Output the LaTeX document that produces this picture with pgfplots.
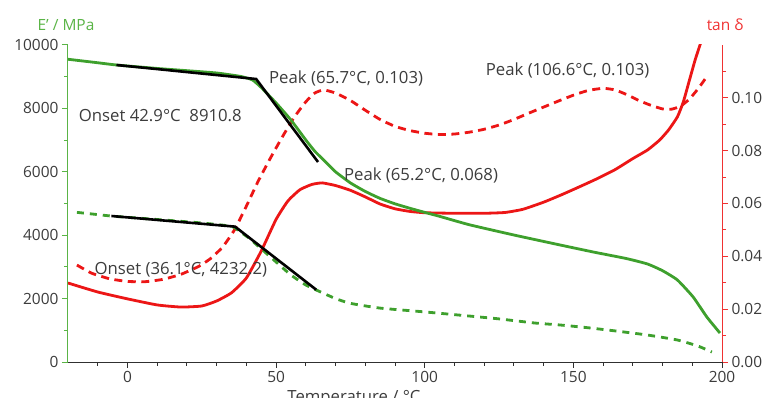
\documentclass[border=0pt]{standalone}
\usepackage{fontspec}
\setmainfont{Open Sans}
\usepackage{pgfplots}
\usepackage{pgfplotstable}
\pgfplotsset{compat=1.18}
\definecolor{cgreen}{RGB}{62,160,45}
\definecolor{cgreenax}{RGB}{90,180,70}
\definecolor{cred}{RGB}{236,22,22}
\definecolor{credax}{RGB}{240,50,50}
\definecolor{ctext}{RGB}{60,60,60}
\newcommand\fs{\fontsize{15.5}{18}\selectfont}
\newcommand\fa{\fontsize{16.8}{19}\selectfont}

\pgfplotstableread{
T E
-20 9550
-10 9440
-3.7 9369
10 9260
20 9190
30 9117
38 9010
42 8900
45 8660
50 8170
55 7634
60 7003
63 6650
66 6372
70 6000
75 5650
80 5380
85 5160
90 4990
95 4850
100 4720
105 4595
115 4330
130 4006
145.6 3690
156.7 3470
168 3260
175 3090
180 2880
185 2587
190.3 2050
194.9 1420
199.3 915
}\Eone

\pgfplotstableread{
T E
-17 4720
-10 4650
-5 4600
5 4530
15 4460
25 4385
35 4280
38 4100
41 3900
45 3570
50 3155
55 2744
60 2429
65 2208
70 2000
75 1850
85 1700
100 1580
115 1450
125 1360
137 1230
145.6 1167
155 1080
165 970
175 850
185 694
192 500
196.6 315
}\Etwo

\pgfplotstableread{
T tan
-20 0.0299
-10 0.0265
0 0.0239
10 0.0216
18 0.0208
25 0.0212
30 0.0231
35 0.0262
40 0.0318
45 0.0420
50 0.0540
54 0.0610
58 0.0652
62 0.0672
65.5 0.0678
70 0.0668
75 0.0650
80 0.0625
85 0.0598
90 0.0580
95 0.0570
100 0.0565
110 0.0563
120 0.0563
127 0.0566
133 0.0578
140 0.0605
146 0.0633
152 0.0663
158 0.0694
164 0.0728
170 0.0770
175 0.0803
179 0.0840
182 0.0878
185 0.0928
187 0.0985
189 0.1065
191 0.1145
192.6 0.1200
193.4 0.1230
}\Tone

\pgfplotstableread{
T tan
-17 0.0367
-12 0.0336
-6 0.0315
0 0.0305
6 0.0304
12 0.0313
18 0.0332
24 0.0362
28 0.0392
32 0.0435
36 0.0500
40 0.0590
44 0.0685
48 0.0770
52 0.0850
56 0.0925
60 0.0985
63 0.1018
66 0.1030
70 0.1018
75 0.0990
80 0.0953
85 0.0918
90 0.0892
95 0.0876
100 0.0866
105 0.0861
110 0.0863
115 0.0870
120 0.0881
125 0.0897
130 0.0918
135 0.0942
140 0.0965
145 0.0988
150 0.1010
155 0.1028
160 0.1036
164 0.1030
168 0.1012
172 0.0990
176 0.0972
180 0.0958
183 0.0957
186 0.0968
189 0.0995
192 0.1035
195.3 0.1087
}\Ttwo

\begin{document}
\begin{tikzpicture}
\pgfplotsset{
  common/.style={
    at={(0,0)}, anchor=south west, scale only axis,
    width=654bp, height=317bp, xmin=-20, xmax=200,
    tick label style={font=\fs, text=ctext},
    /pgf/number format/assume math mode=true,
    major tick length=6bp, minor tick length=4bp, tick align=outside,
    scaled ticks=false,
  }
}
% right axis: tan delta
\begin{axis}[common,
  axis x line=none, axis y line*=right,
  ymin=0, ymax=0.12,
  ytick={0,0.02,0.04,0.06,0.08,0.1},
  minor ytick={0.01,0.03,0.05,0.07,0.09,0.11},
  y axis line style={credax, line width=1bp},
  ytick style={credax, line width=1bp},
  yticklabel style={/pgf/number format/.cd, fixed, fixed zerofill, precision=2},
]
\addplot[cred, line width=2.8bp, smooth, tension=0.3] table[x=T, y=tan] {\Tone};
\addplot[cred, line width=2.8bp, smooth, tension=0.3, dash pattern=on 8bp off 5.5bp] table[x=T, y=tan] {\Ttwo};
\end{axis}
% left axis: E'
\begin{axis}[common,
  axis x line*=bottom, axis y line*=left,
  ymin=0, ymax=10000,
  ytick={0,2000,4000,6000,8000,10000},
  minor ytick={1000,3000,5000,7000,9000},
  xtick={0,50,100,150,200},
  minor xtick={-10,10,20,30,40,60,70,80,90,110,120,130,140,160,170,180,190},
  /pgf/number format/1000 sep={},
  y axis line style={cgreenax, line width=1bp},
  ytick style={cgreenax, line width=1bp},
  x axis line style={ctext!80!black, line width=1bp},
  xtick style={ctext!80!black, line width=1bp},
]
\addplot[cgreen, line width=2.8bp, smooth, tension=0.3] table[x=T, y=E] {\Eone};
\addplot[cgreen, line width=2.8bp, smooth, tension=0.3, dash pattern=on 7bp off 6bp] table[x=T, y=E] {\Etwo};
\addplot[black, line width=2.6bp] coordinates {(-3.7,9369) (43.3,8927) (64.1,6309)};
\addplot[black, line width=2.6bp] coordinates {(-5.4,4606) (36.2,4270) (63.5,2280)};
\node[anchor=west, inner sep=0, text=ctext, font=\fa] at (axis cs:-16.4,7760) {Onset 42.9°C~~8910.8};
\node[anchor=west, inner sep=0, text=ctext, font=\fa] at (axis cs:47.6,8930) {Peak (65.7°C, 0.103)};
\node[anchor=west, inner sep=0, text=ctext, font=\fa] at (axis cs:72.8,5900) {Peak (65.2°C, 0.068)};
\node[anchor=west, inner sep=0, text=ctext, font=\fa] at (axis cs:120.5,9210) {Peak (106.6°C, 0.103)};
\node[anchor=west, inner sep=0, text=ctext, font=\fa] at (axis cs:-11.1,2900) {Onset (36.1°C, 4232.2)};
\end{axis}
\node[text=cgreenax, font=\fs] at (-2bp,337bp) {E’ / MPa};
\node[text=credax, font=\fs] at (657bp,337bp) {tan δ};
\node[anchor=base, text=ctext, font=\fa] at (286bp,-40bp) {Temperature / °C};
\pgfresetboundingbox
\path[use as bounding box] (-68bp,-36bp) rectangle (703bp,362bp);
\end{tikzpicture}
\end{document}
